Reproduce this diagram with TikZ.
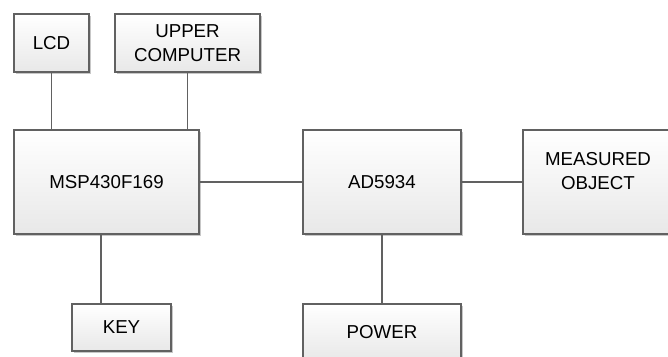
\documentclass[tikz,border=0pt]{standalone}
\usepackage{fontspec}
\setmainfont{Liberation Sans}
\usetikzlibrary{shadows}
\begin{document}
\begin{tikzpicture}[x=1pt,y=-1pt,
  blk/.style={draw=black!62,line width=1.1pt,top color=white,bottom color=black!9,
    drop shadow={shadow xshift=2.2pt,shadow yshift=-2.2pt,fill=black!22,opacity=1},
    inner sep=0pt,align=center,font=\fontsize{18.7}{24}\selectfont},
  conn/.style={draw=black!62,line width=1.1pt}]
\useasboundingbox (0,0) rectangle (668,356);
\node[blk,minimum width=75pt,minimum height=58pt] (lcd) at (51.5,43) {LCD};
\node[blk,minimum width=145pt,minimum height=58pt] (up) at (187.5,43) {UPPER\\COMPUTER};
\node[blk,minimum width=185pt,minimum height=104pt] (msp) at (106.5,182) {MSP430F169};
\node[blk,minimum width=158pt,minimum height=104pt] (ad) at (382,182) {AD5934};
\node[blk,minimum width=150pt,minimum height=104pt,text depth=22pt] (mo) at (598,182) {MEASURED\\OBJECT};
\node[blk,minimum width=99pt,minimum height=47pt] (key) at (121.5,327.5) {KEY};
\node[blk,minimum width=158pt,minimum height=56pt] (pw) at (382,332) {POWER};
\draw[conn] (lcd.south) -- (lcd.south |- msp.north);
\draw[conn] (up.south) -- (up.south |- msp.north);
\draw[conn] (msp.east) -- (ad.west);
\draw[conn] (ad.east) -- (mo.west);
\draw[conn] (ad.south) -- (pw.north);
\draw[conn] (msp.south) ++(-5.5,0) coordinate (k1) -- (k1 |- key.north);
\end{tikzpicture}
\end{document}
